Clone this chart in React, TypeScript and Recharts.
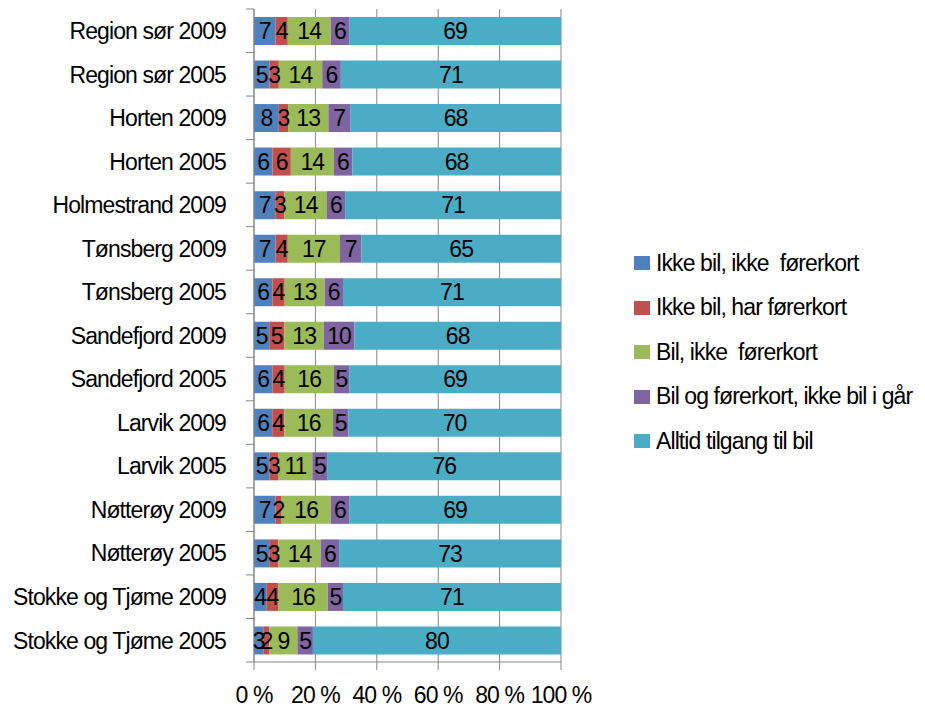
import React from "react";
import {
  BarChart,
  Bar,
  XAxis,
  YAxis,
  CartesianGrid,
  Legend,
  LabelList,
} from "recharts";

const categories = [
  "Region sør 2009",
  "Region sør 2005",
  "Horten 2009",
  "Horten 2005",
  "Holmestrand 2009",
  "Tønsberg 2009",
  "Tønsberg 2005",
  "Sandefjord 2009",
  "Sandefjord 2005",
  "Larvik 2009",
  "Larvik 2005",
  "Nøtterøy 2009",
  "Nøtterøy 2005",
  "Stokke og Tjøme 2009",
  "Stokke og Tjøme 2005",
];

const ikkeBilIkkeKort = [7, 5, 8, 6, 7, 7, 6, 5, 6, 6, 5, 7, 5, 4, 3];
const ikkeBilHarKort = [4, 3, 3, 6, 3, 4, 4, 5, 4, 4, 3, 2, 3, 4, 2];
const bilIkkeKort = [14, 14, 13, 14, 14, 17, 13, 13, 16, 16, 11, 16, 14, 16, 9];
const bilOgKortIkkeIGaar = [6, 6, 7, 6, 6, 7, 6, 10, 5, 5, 5, 6, 6, 5, 5];
const alltidTilgang = [69, 71, 68, 68, 71, 65, 71, 68, 69, 70, 76, 69, 73, 71, 80];

const xTicks = [0, 0.2, 0.4, 0.6, 0.8, 1];

const series = [
  { key: "a", name: "Ikke bil, ikke  førerkort", color: "#4F81BD", values: ikkeBilIkkeKort },
  { key: "b", name: "Ikke bil, har førerkort", color: "#C0504D", values: ikkeBilHarKort },
  { key: "c", name: "Bil, ikke  førerkort", color: "#9BBB59", values: bilIkkeKort },
  { key: "d", name: "Bil og førerkort, ikke bil i går", color: "#8064A2", values: bilOgKortIkkeIGaar },
  { key: "e", name: "Alltid tilgang til bil", color: "#4BACC6", values: alltidTilgang },
];

const data = categories.map((name, i) => {
  const row: Record<string, string | number> = { name };
  series.forEach((s) => {
    row[s.key] = s.values[i];
  });
  return row;
});

const FONT = "'Liberation Sans', Arial, sans-serif";
const FS = 23;
const LS = -0.9;
const AXIS_GRAY = "#868686";
const PLOT_LEFT = 254;
const BAND = 653 / categories.length;

const YTick = (props: any) => {
  const { x, y, payload, index } = props;
  return (
    <g>
      <line x1={PLOT_LEFT - 8} x2={PLOT_LEFT} y1={y - BAND / 2} y2={y - BAND / 2} stroke={AXIS_GRAY} />
      {index === categories.length - 1 && (
        <line x1={PLOT_LEFT - 8} x2={PLOT_LEFT} y1={y + BAND / 2} y2={y + BAND / 2} stroke={AXIS_GRAY} />
      )}
      <text
        x={x}
        y={y}
        dy="0.36em"
        textAnchor="end"
        fontSize={FS}
        fontFamily={FONT}
        letterSpacing={LS}
        fill="#000"
      >
        {payload.value}
      </text>
    </g>
  );
};

const LegendBox = () => (
  <div style={{ fontFamily: FONT, fontSize: FS, letterSpacing: LS, color: "#000" }}>
    {series.map((s) => (
      <div key={s.key} style={{ display: "flex", alignItems: "center", height: 44.5 }}>
        <span
          style={{ display: "inline-block", width: 16, height: 14, background: s.color, marginRight: 6 }}
        />
        <span style={{ whiteSpace: "pre" }}>{s.name}</span>
      </div>
    ))}
  </div>
);

export default function App() {
  return (
    <div style={{ position: "absolute", left: 0, top: 0, background: "#fff" }}>
      <BarChart
        width={925}
        height={709}
        data={data}
        layout="vertical"
        stackOffset="expand"
        barSize={28}
        margin={{ top: 9, right: 364, bottom: 7, left: 0 }}
      >
        <CartesianGrid horizontal={false} stroke={AXIS_GRAY} />
        <XAxis
          type="number"
          domain={[0, 1]}
          ticks={xTicks}
          tickFormatter={(v: number) => `${Math.round(v * 100)} %`}
          height={40}
          tickSize={8}
          tickMargin={17}
          stroke={AXIS_GRAY}
          tick={{ fontSize: FS, fontFamily: FONT, fill: "#000", letterSpacing: LS }}
        />
        <YAxis
          type="category"
          dataKey="name"
          width={PLOT_LEFT}
          tickLine={false}
          tickSize={8}
          tickMargin={20}
          stroke={AXIS_GRAY}
          interval={0}
          tick={<YTick />}
        />
        <Legend
          layout="horizontal"
          verticalAlign="middle"
          align="center"
          content={<LegendBox />}
          wrapperStyle={{ left: 634, top: 241, width: 291 }}
        />
        {series.map((s) => (
          <Bar key={s.key} dataKey={s.key} name={s.name} stackId="1" fill={s.color} isAnimationActive={false}>
            <LabelList
              dataKey={s.key}
              position="center"
              fill="#000"
              fontSize={FS}
              fontFamily={FONT}
              letterSpacing={LS}
            />
          </Bar>
        ))}
      </BarChart>
    </div>
  );
}
